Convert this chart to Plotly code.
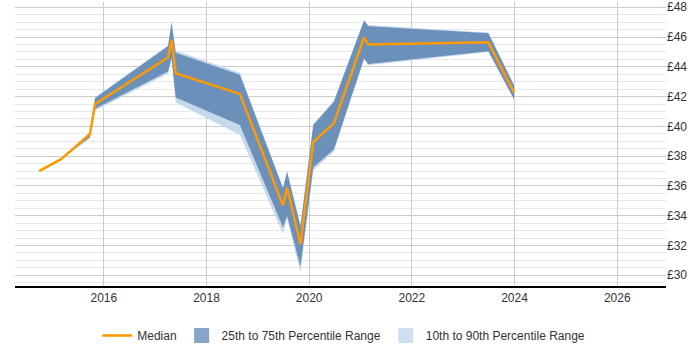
import plotly.graph_objects as go

years = [2014.74, 2015.16, 2015.73, 2015.83, 2017.25, 2017.32, 2017.40, 2018.65,
         2019.49, 2019.57, 2019.83, 2020.08, 2020.48, 2021.07, 2021.15, 2023.49, 2023.99]
median = [37.0, 37.78, 39.48, 41.5, 44.62, 45.82, 43.57, 42.18,
          34.69, 35.88, 32.09, 38.95, 40.2, 45.97, 45.49, 45.64, 42.27]
p25 = [37.0, 37.78, 39.26, 41.18, 43.68, 44.6, 41.94, 40.09,
       33.22, 34.0, 30.61, 37.25, 38.45, 44.55, 44.18, 45.05, 41.83]
p75 = [37.0, 37.78, 39.59, 41.9, 45.38, 46.95, 44.95, 43.46,
       35.84, 36.93, 33.3, 40.09, 41.65, 47.1, 46.73, 46.25, 42.75]
p10 = [37.0, 37.78, 39.2, 41.07, 43.53, 44.4, 41.6, 39.43,
       32.79, 33.8, 30.18, 37.04, 38.3, 44.5, 44.1, 45.0, 41.75]
p90 = [37.0, 37.78, 39.62, 41.95, 45.45, 47.05, 45.1, 43.6,
       35.9, 37.0, 33.4, 40.15, 41.7, 47.15, 46.8, 46.3, 42.8]

x_ticks = [2016, 2018, 2020, 2022, 2024, 2026]
y_ticks = [30, 32, 34, 36, 38, 40, 42, 44, 46, 48]

ORANGE = "#ff9900"
DARK = "rgba(90,130,178,0.85)"
LIGHT = "rgba(198,217,236,1)"
DARK_SW = "#87a5c6"
LIGHT_SW = "#cfdfef"

fig = go.Figure()

# 10th-90th band
fig.add_trace(go.Scatter(x=years + years[::-1], y=p90 + p10[::-1], fill="toself",
                         fillcolor=LIGHT, line=dict(width=0), mode="lines",
                         hoverinfo="skip", showlegend=False))
# 25th-75th band
fig.add_trace(go.Scatter(x=years + years[::-1], y=p75 + p25[::-1], fill="toself",
                         fillcolor=DARK, line=dict(width=0), mode="lines",
                         hoverinfo="skip", showlegend=False))
# median
fig.add_trace(go.Scatter(x=years, y=median, mode="lines", name="Median",
                         line=dict(color=ORANGE, width=2.5)))
# legend swatches
fig.add_trace(go.Scatter(x=[None], y=[None], mode="markers", name="25th to 75th Percentile Range",
                         marker=dict(symbol="square", size=15, color=DARK_SW)))
fig.add_trace(go.Scatter(x=[None], y=[None], mode="markers", name="10th to 90th Percentile Range",
                         marker=dict(symbol="square", size=15, color=LIGHT_SW)))

fig.update_layout(
    width=700, height=350,
    margin=dict(l=15, r=34, t=0, b=58),
    paper_bgcolor="white", plot_bgcolor="white",
    font=dict(family="Liberation Sans, Arial, sans-serif", size=12, color="#333333"),
    showlegend=True,
    legend=dict(orientation="h", x=0.505, xanchor="center", y=-0.125, yanchor="top",
                font=dict(size=12, color="#333333"), itemwidth=30,
                traceorder="normal"),
)
fig.update_xaxes(range=[2014.27, 2026.95], tickvals=x_ticks, ticktext=[str(t) for t in x_ticks],
                 showgrid=True, gridcolor="#cccccc", gridwidth=1,
                 showline=True, linecolor="#000000", linewidth=1.5,
                 ticks="", zeroline=False, fixedrange=True)
fig.update_yaxes(range=[29.28, 48.35], side="right", tickvals=y_ticks,
                 ticktext=["£%d" % t for t in y_ticks], ticklabeloverflow="allow",
                 showgrid=True, gridcolor="#cccccc", gridwidth=1,
                 minor=dict(dtick=0.5, showgrid=True, gridcolor="#e8e8e8", gridwidth=1),
                 showline=False, ticks="", zeroline=False, fixedrange=True)

fig.write_html("out.html")
